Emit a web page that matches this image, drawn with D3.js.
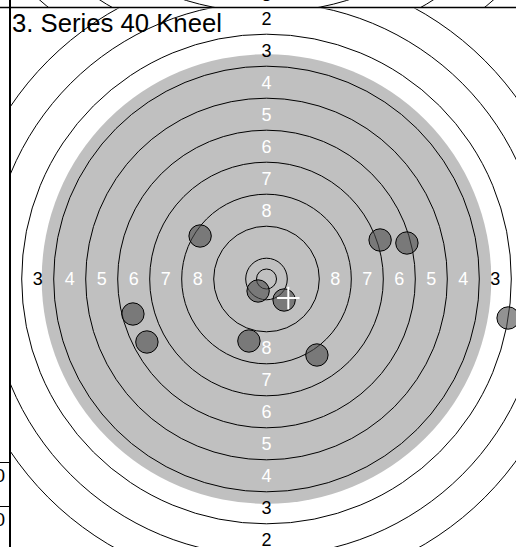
<!DOCTYPE html>
<html>
<head>
<meta charset="utf-8">
<script src="https://cdn.jsdelivr.net/npm/d3@7"></script>
<style>
  body { margin: 0; background: #fff; }
  svg { display: block; font-family: "Liberation Sans", Arial, sans-serif; }
</style>
</head>
<body>
<div id="chart"></div>
<script>
// 50m rifle target, ring diameters in mm (ring 1 .. ring 10)
var ringScores = [1, 2, 3, 4, 5, 6, 7, 8, 9, 10];
var ringDiameters = [154.4, 138.4, 122.4, 106.4, 90.4, 74.4, 58.4, 42.4, 26.4, 10.4];
var innerTenDiameter = 5.0;
var blackDiameter = 112.4;
var labelRings = [2, 3, 4, 5, 6, 7, 8];

// shots of the series, mm from the centre (y up)
var shotX = [-16.6, 28.4, 35.1, -2.1, 4.4, -33.4, -29.9, -4.4, 12.6, 60.4];
var shotY = [10.75, 9.75, 9.0, -3.0, -5.25, -8.75, -15.75, -15.5, -19.0, -9.75];
var bulletDiameter = 5.6;

var title = "3. Series 40 Kneel";
var tableValues = ["0", "0"];

var width = 516, height = 547;

var svg = d3.select("#chart").append("svg")
    .attr("width", width)
    .attr("height", height);

var defs = svg.append("defs");
defs.append("clipPath").attr("id", "clipMain")
  .append("rect").attr("x", 11).attr("y", 8.5).attr("width", width - 11).attr("height", height - 8.5);
defs.append("clipPath").attr("id", "clipAbove")
  .append("rect").attr("x", 11).attr("y", 0).attr("width", width - 11).attr("height", 7);

function drawTarget(g, cx, cy, pxPerMm, withShots) {
	var x = d3.scaleLinear().domain([0, 1]).range([cx, cx + pxPerMm]);
	var y = d3.scaleLinear().domain([0, 1]).range([cy, cy - pxPerMm]);
	var r = function(mm){ return mm * pxPerMm; };

	g.append("circle")
	    .attr("cx", x(0)).attr("cy", y(0))
	    .attr("r", r(blackDiameter / 2))
	    .style("fill", "#c0c0c0");

	g.selectAll(".ring")
	    .data(ringDiameters.concat([innerTenDiameter]))
	  .enter().append("circle")
	    .attr("class", "ring")
	    .attr("cx", x(0)).attr("cy", y(0))
	    .attr("r", function(d){ return r(d / 2); })
	    .style("fill", "none")
	    .style("stroke", "#000")
	    .style("stroke-width", 1);

	// labels in the middle of each scoring zone, four directions
	var labels = [];
	labelRings.forEach(function(n){
		var i = ringScores.indexOf(n);
		var mid = (ringDiameters[i] + ringDiameters[i + 1]) / 4;
		var inBlack = ringDiameters[i] <= blackDiameter;
		[[-1, 0], [1, 0], [0, 1], [0, -1]].forEach(function(dir){
			labels.push({n: n, x: dir[0] * mid, y: dir[1] * mid, white: inBlack});
		});
	});
	g.selectAll(".ringLabel")
	    .data(labels)
	  .enter().append("text")
	    .attr("class", "ringLabel")
	    .attr("x", function(d){ return x(d.x); })
	    .attr("y", function(d){ return y(d.y); })
	    .attr("dy", "0.36em")
	    .attr("text-anchor", "middle")
	    .style("font-size", "18px")
	    .style("fill", function(d){ return d.white ? "#fff" : "#000"; })
	    .text(function(d){ return d.n; });

	if (!withShots) return;

	var shots = shotX.map(function(d, i){ return {x: d, y: shotY[i]}; });
	g.selectAll(".shot")
	    .data(shots)
	  .enter().append("circle")
	    .attr("class", "shot")
	    .attr("cx", function(d){ return x(d.x); })
	    .attr("cy", function(d){ return y(d.y); })
	    .attr("r", r(bulletDiameter / 2))
	    .style("fill", "#4a4a4a")
	    .style("fill-opacity", 0.6)
	    .style("stroke", "#000")
	    .style("stroke-width", 1);

	// mean point of impact
	var mx = d3.mean(shots, function(d){ return d.x; });
	var my = d3.mean(shots, function(d){ return d.y; });
	var half = bulletDiameter / 2;
	g.append("line")
	    .attr("x1", x(mx - half)).attr("x2", x(mx + half))
	    .attr("y1", y(my)).attr("y2", y(my))
	    .style("stroke", "#fff").style("stroke-width", 2);
	g.append("line")
	    .attr("x1", x(mx)).attr("x2", x(mx))
	    .attr("y1", y(my - half)).attr("y2", y(my + half))
	    .style("stroke", "#fff").style("stroke-width", 2);
}

// bottom of the panel above
drawTarget(svg.append("g").attr("clip-path", "url(#clipAbove)"), 266.5, -263, 4.5, false);

// this panel
var main = svg.append("g").attr("clip-path", "url(#clipMain)");
drawTarget(main, 266.5, 279, 4, true);

main.append("text")
    .attr("x", 12)
    .attr("y", 32)
    .style("font-size", "25.7px")
    .style("fill", "#000")
    .text(title);

// panel borders
svg.append("line")
    .attr("x1", 0).attr("x2", width)
    .attr("y1", 7.5).attr("y2", 7.5)
    .style("stroke", "#000").style("stroke-width", 1.6);
svg.append("line")
    .attr("x1", 10).attr("x2", 10)
    .attr("y1", 0).attr("y2", height)
    .style("stroke", "#000").style("stroke-width", 2);

// table cells of the panel on the left
var rowTop = [462, 506];
svg.selectAll(".tableRow")
    .data(rowTop)
  .enter().append("line")
    .attr("class", "tableRow")
    .attr("x1", 0).attr("x2", 10)
    .attr("y1", function(d){ return d + 0.5; }).attr("y2", function(d){ return d + 0.5; })
    .style("stroke", "#000").style("stroke-width", 1);
svg.selectAll(".tableText")
    .data(tableValues)
  .enter().append("text")
    .attr("class", "tableText")
    .attr("x", 5)
    .attr("y", function(d, i){ return rowTop[i] + 13.5; })
    .attr("dy", "0.36em")
    .attr("text-anchor", "end")
    .style("font-size", "19px")
    .text(function(d){ return d; });
</script>
</body>
</html>
